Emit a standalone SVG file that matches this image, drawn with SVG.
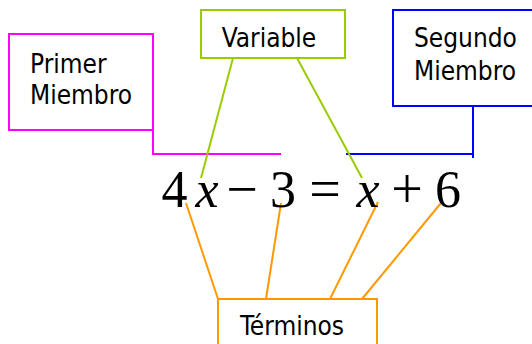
<svg xmlns="http://www.w3.org/2000/svg" width="532" height="344" viewBox="0 0 532 344">
<style>
.lbl{font-family:"DejaVu Sans Condensed","Noto Sans",sans-serif;font-size:26px;fill:#000}
.eq{font-family:"Liberation Serif","Times New Roman",serif;font-size:52px;fill:#000;text-anchor:middle}
.op{font-size:56px}
.box{fill:#fff;stroke-width:2}
.ln{fill:none;stroke-width:2}
</style>
<rect width="532" height="344" fill="#fff"/>
<g id="connectors">
<polyline class="ln" stroke="#FF00FF" points="153,130 153,154 281,154"/>
<polyline class="ln" stroke="#0000FF" points="346,154 473,154"/>
<polyline class="ln" stroke="#0000FF" points="473,106 473,158"/>
<line class="ln" stroke="#99CC00" x1="233" y1="58" x2="201" y2="178"/>
<line class="ln" stroke="#99CC00" x1="297" y1="58" x2="362" y2="178"/>
<line class="ln" stroke="#FF9900" x1="186" y1="203" x2="218" y2="299"/>
<line class="ln" stroke="#FF9900" x1="281" y1="203" x2="266" y2="299"/>
<line class="ln" stroke="#FF9900" x1="378" y1="202" x2="330" y2="299"/>
<line class="ln" stroke="#FF9900" x1="441" y1="203" x2="362" y2="299"/>
</g>
<g id="primer">
<rect class="box" stroke="#FF00FF" x="9" y="34" width="144" height="96"/>
<text class="lbl" x="30" y="73">Primer</text>
<text class="lbl" x="30" y="104">Miembro</text>
</g>
<g id="variable">
<rect class="box" stroke="#99CC00" x="201" y="10" width="144" height="48"/>
<text class="lbl" x="269" y="47" text-anchor="middle">Variable</text>
</g>
<g id="segundo">
<rect class="box" stroke="#0000FF" x="393" y="10" width="150" height="96"/>
<text class="lbl" x="414" y="47">Segundo</text>
<text class="lbl" x="414" y="80">Miembro</text>
</g>
<g id="terminos">
<rect class="box" stroke="#FF9900" x="218" y="299" width="159" height="60"/>
<text class="lbl" x="292" y="335" text-anchor="middle">Términos</text>
</g>
<g id="equation">
<text class="eq" x="174.5" y="207">4</text>
<text class="eq" x="207" y="207" font-style="italic">x</text>
<text class="eq op" x="242" y="208">−</text>
<text class="eq" x="283" y="207">3</text>
<text class="eq op" x="325" y="208">=</text>
<text class="eq" x="368" y="207" font-style="italic">x</text>
<text class="eq op" x="407" y="208">+</text>
<text class="eq" x="448" y="207">6</text>
</g>
</svg>
